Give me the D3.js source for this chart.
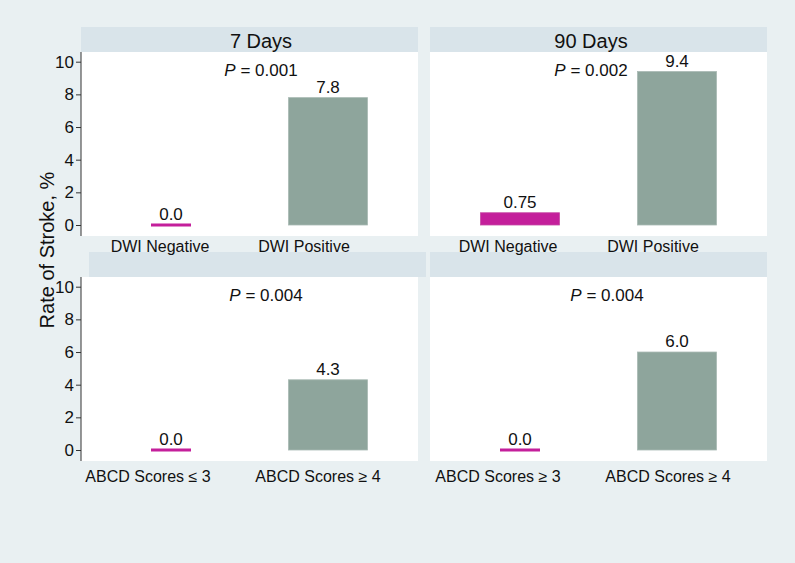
<!DOCTYPE html>
<meta charset="utf-8">
<style>
body { margin: 0; background: #e9f0f2; }
svg { display: block; font-family: "Liberation Sans", Arial, sans-serif; }
</style>
<script src="https://d3js.org/d3.v7.min.js"></script>
<body>
<svg id="chart" width="795" height="563"></svg>
<script>

// ---- data ----
var panelTitles = ["7 Days", "90 Days", "", ""];
var topCats = ["DWI Negative", "DWI Positive"];
var bottomLeftCats = ["ABCD Scores \u2264 3", "ABCD Scores \u2265 4"];
var bottomRightCats = ["ABCD Scores \u2265 3", "ABCD Scores \u2265 4"];
var rate7 = [0.0, 7.8];
var rate90 = [0.75, 9.4];
var rateAbcd1 = [0.0, 4.3];
var rateAbcd2 = [0.0, 6.0];
var valueLabels = [["0.0", "7.8"], ["0.75", "9.4"], ["0.0", "4.3"], ["0.0", "6.0"]];
var pValues = ["0.001", "0.002", "0.004", "0.004"];
var yTicks = [0, 2, 4, 6, 8, 10];

var barColors = ["#c41f9b", "#8ea59c"];

// ---- layout ----
var pw = 337, ph = 184;
var panels = [
  {x: 81,  y: 52,  hx: 81,  cats: topCats,        vals: rate7,     pX: 180, labX: [79, 223], labDy: 15.5, axis: true},
  {x: 430, y: 52,  hx: 430, cats: topCats,        vals: rate90,    pX: 161, labX: [78, 223], labDy: 15.5, axis: false},
  {x: 81,  y: 277, hx: 89,  cats: bottomLeftCats, vals: rateAbcd1, pX: 185, labX: [67, 237], labDy: 20.5, axis: true},
  {x: 430, y: 277, hx: 430, cats: bottomRightCats,vals: rateAbcd2, pX: 177, labX: [68, 238], labDy: 20.5, axis: false}
];

var svg = d3.select("#chart");
svg.append("rect").attr("width", 795).attr("height", 563).attr("fill", "#e9f0f2");

var y = d3.scaleLinear().domain([0, 10]).range([ph - 11, 9.7]);
var barW = 79, zeroW = 40;

// header strips first, so the top row's category labels sit over them
panels.forEach(function(p) {
  svg.append("rect")
      .attr("x", p.hx).attr("y", p.y - 25)
      .attr("width", pw).attr("height", 25)
      .attr("fill", "#d9e4ea");
});

panels.forEach(function(p, i) {
  var g = svg.append("g").attr("transform", "translate(" + p.x + "," + p.y + ")");

  g.append("rect").attr("width", pw).attr("height", ph).attr("fill", "#fff");

  if (panelTitles[i]) {
    svg.append("text")
        .attr("x", p.x + p.pX).attr("y", p.y - 4)
        .attr("text-anchor", "middle")
        .attr("font-size", 20)
        .attr("fill", "#111")
        .text(panelTitles[i]);
  }

  var x = d3.scalePoint().domain(p.cats).range([90, 247]);
  var labScale = d3.scalePoint().domain(p.cats).range(p.labX);

  var data = p.cats.map(function(c, j) { return {cat: c, v: p.vals[j], j: j, lab: valueLabels[i][j]}; });

  // bars
  g.selectAll(".bar").data(data.filter(function(d) { return d.v > 0; }))
    .enter().append("rect")
      .attr("x", function(d) { return x(d.cat) - barW / 2; })
      .attr("y", function(d) { return y(d.v); })
      .attr("width", barW)
      .attr("height", function(d) { return y(0) - y(d.v); })
      .attr("fill", function(d) { return barColors[d.j]; })
      .attr("stroke", function(d) { return d.j ? "#a9bab4" : "#c64aa5"; })
      .attr("stroke-width", 0.8);

  // zero values drawn as a short line
  g.selectAll(".zero").data(data.filter(function(d) { return d.v === 0; }))
    .enter().append("line")
      .attr("x1", function(d) { return x(d.cat) - zeroW / 2; })
      .attr("x2", function(d) { return x(d.cat) + zeroW / 2; })
      .attr("y1", y(0)).attr("y2", y(0))
      .attr("stroke", function(d) { return barColors[d.j]; })
      .attr("stroke-width", 3);

  // value labels
  g.selectAll(".val").data(data)
    .enter().append("text")
      .attr("x", function(d) { return x(d.cat); })
      .attr("y", function(d) { return y(d.v) - 5; })
      .attr("text-anchor", "middle")
      .attr("font-size", 17)
      .attr("fill", "#111")
      .text(function(d) { return d.lab; });

  // P value
  var pt = g.append("text")
      .attr("x", p.pX).attr("y", 24)
      .attr("text-anchor", "middle")
      .attr("font-size", 17)
      .attr("fill", "#111");
  pt.append("tspan").attr("font-style", "italic").text("P");
  pt.append("tspan").text(" = " + pValues[i]);

  // category labels
  g.selectAll(".cat").data(p.cats)
    .enter().append("text")
      .attr("x", function(d) { return labScale(d); })
      .attr("y", ph + p.labDy)
      .attr("text-anchor", "middle")
      .attr("font-size", 16)
      .attr("fill", "#111")
      .text(function(d) { return d; });

  if (p.axis) {
    var ax = g.append("g")
        .call(d3.axisLeft(y).tickValues(yTicks).tickSize(5).tickPadding(2).tickFormat(d3.format("d")));
    ax.select(".domain").attr("d", "M0,0V" + ph).attr("stroke", "#333");
    ax.selectAll(".tick line").attr("stroke", "#333");
    ax.selectAll(".tick text")
        .attr("font-size", 17)
        .attr("font-family", "Liberation Sans, Arial, sans-serif")
        .attr("fill", "#111");
  }
});

// y axis title
svg.append("text")
    .attr("transform", "translate(54,250) rotate(-90)")
    .attr("text-anchor", "middle")
    .attr("font-size", 20)
    .attr("fill", "#111")
    .text("Rate of Stroke, %");

</script>
</body>
